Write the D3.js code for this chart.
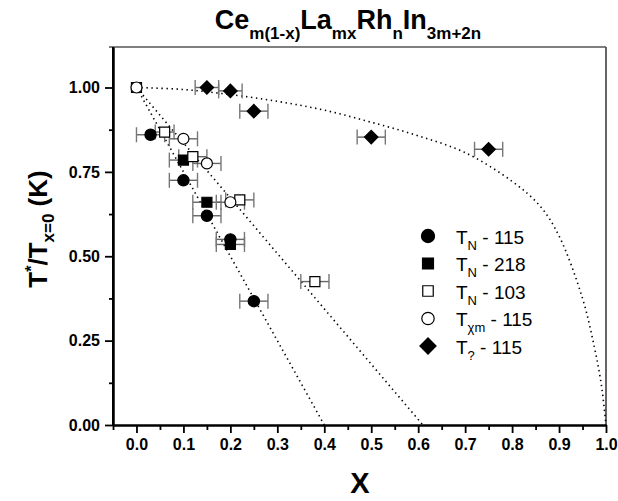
<!DOCTYPE html>
<html>
<head>
<meta charset="utf-8">
<script src="https://cdn.jsdelivr.net/npm/d3@7/dist/d3.min.js"></script>
<style>
  html, body { margin: 0; padding: 0; background: #fff; }
  svg { display: block; }
  text { font-family: "Liberation Sans", Arial, sans-serif; }
</style>
</head>
<body>
<svg id="chart" width="618" height="501"></svg>
<script>
// Normalised ordering temperature vs La fraction x in Ce(m(1-x))La(mx)Rh(n)In(3m+2n)

// Series: x, T*/T(x=0), horizontal error (x units)
const tn115X   = [0.03, 0.10, 0.15, 0.20, 0.25];
const tn115Y   = [0.86, 0.725, 0.62, 0.55, 0.367];
const tn115Err = [0.03, 0.03, 0.03, 0.03, 0.03];

const tn218X   = [0.10, 0.15, 0.20];
const tn218Y   = [0.785, 0.66, 0.535];
const tn218Err = [0.03, 0.03, 0.03];

const tn103X   = [0.00, 0.06, 0.12, 0.22, 0.38];
const tn103Y   = [1.00, 0.868, 0.795, 0.667, 0.425];
const tn103Err = [0.00, 0.02, 0.03, 0.03, 0.03];

const tchiX    = [0.00, 0.10, 0.15, 0.20];
const tchiY    = [1.00, 0.848, 0.775, 0.66];
const tchiErr  = [0.00, 0.03, 0.03, 0.03];

const tqX      = [0.15, 0.20, 0.25, 0.50, 0.75];
const tqY      = [1.00, 0.99, 0.93, 0.853, 0.817];
const tqErr    = [0.025, 0.025, 0.03, 0.03, 0.03];

// Guide lines (dotted)
const guideSteepX = [0.0, 0.40];
const guideSteepY = [1.0, 0.0];
const guideMidX   = [0.0, 0.61];
const guideMidY   = [1.0, 0.0];
const guideArcX   = [0.0, 0.1, 0.2, 0.3, 0.4, 0.5, 0.6, 0.7, 0.8, 0.86, 0.9, 0.95, 0.975, 0.99, 1.0];
const guideArcY   = [1.0, 0.994, 0.979, 0.959, 0.933, 0.897, 0.857, 0.807, 0.722, 0.648, 0.56, 0.375, 0.232, 0.12, 0.0];

// Axis ticks
const xMajorTicks = [0.0, 0.1, 0.2, 0.3, 0.4, 0.5, 0.6, 0.7, 0.8, 0.9, 1.0];
const xMinorTicks = [-0.05, 0.05, 0.15, 0.25, 0.35, 0.45, 0.55, 0.65, 0.75, 0.85, 0.95];
const yMajorTicks = [0.00, 0.25, 0.50, 0.75, 1.00];
const yMinorTicks = [0.125, 0.375, 0.625, 0.875];

const svg = d3.select("#chart");

const x = d3.scaleLinear().domain([-0.05, 1.0]).range([113, 606]);
const y = d3.scaleLinear().domain([0, 1.12]).range([425, 47]);

// Frame: grey top/right
svg.append("line").attr("x1", 109).attr("x2", x(1.0)).attr("y1", y(1.12)).attr("y2", y(1.12))
  .attr("stroke", "#555").attr("stroke-width", 1.5);
svg.append("line").attr("x1", x(1.0)).attr("x2", x(1.0)).attr("y1", y(1.12)).attr("y2", y(0))
  .attr("stroke", "#555").attr("stroke-width", 1.8);

// Axes
svg.append("g").attr("transform", `translate(0,${y(0)})`)
  .call(d3.axisBottom(x).tickValues(xMajorTicks).tickFormat(d3.format(".1f")).tickSize(8).tickSizeOuter(0).tickPadding(6));
svg.append("g").attr("transform", `translate(0,${y(0)})`)
  .call(d3.axisBottom(x).tickValues(xMinorTicks).tickFormat("").tickSize(5).tickSizeOuter(0));
svg.append("g").attr("transform", `translate(${x(-0.05)},0)`)
  .call(d3.axisLeft(y).tickValues(yMajorTicks).tickFormat(d3.format(".2f")).tickSize(8).tickSizeOuter(0).tickPadding(5));
svg.append("g").attr("transform", `translate(${x(-0.05)},0)`)
  .call(d3.axisLeft(y).tickValues(yMinorTicks).tickFormat("").tickSize(4).tickSizeOuter(0));

svg.selectAll(".domain").attr("stroke", "#000").attr("stroke-width", 2);
svg.selectAll(".tick line").attr("stroke", "#000").attr("stroke-width", 1.8);
svg.selectAll(".tick text").attr("fill", "#000")
  .style("font-family", "'Liberation Sans', Arial, sans-serif")
  .style("font-weight", "bold").style("font-size", "16px");
// y axis extends to the frame top
svg.append("line").attr("x1", x(-0.05)).attr("x2", x(-0.05)).attr("y1", y(1.12)).attr("y2", y(0))
  .attr("stroke", "#000").attr("stroke-width", 2);

// Dotted guides
const line = d3.line().x(d => x(d[0])).y(d => y(d[1]));
const dotted = (xs, ys, curve) => {
  svg.append("path")
    .attr("d", line.curve(curve || d3.curveLinear)(xs.map((v, i) => [v, ys[i]])))
    .attr("fill", "none").attr("stroke", "#000").attr("stroke-width", 1.6)
    .attr("stroke-dasharray", "1.4 3.6");
};
dotted(guideSteepX, guideSteepY);
dotted(guideMidX, guideMidY);
dotted(guideArcX, guideArcY, d3.curveCatmullRom);

// Markers (diamond = square turned 45 degrees)
const shapePath = (shape, size) => d3.symbol()
  .type(shape === "circle" ? d3.symbolCircle : d3.symbolSquare).size(size)();
const shapeRot = shape => shape === "diamond" ? " rotate(45)" : "";

const series = [
  { xs: tn218X, ys: tn218Y, err: tn218Err, shape: "square",  fill: "#000", size: 100 },
  { xs: tn103X, ys: tn103Y, err: tn103Err, shape: "square",  fill: "#fff", size: 100 },
  { xs: tchiX,  ys: tchiY,  err: tchiErr,  shape: "circle",  fill: "#fff", size: 95 },
  { xs: tn115X, ys: tn115Y, err: tn115Err, shape: "circle",  fill: "#000", size: 100 },
  { xs: tqX,    ys: tqY,    err: tqErr,    shape: "diamond", fill: "#000", size: 90 }
];

const barG = svg.append("g");
series.forEach(s => {
  s.xs.forEach((xv, i) => {
    const e = s.err[i];
    if (e <= 0) return;
    const cy = y(s.ys[i]);
    const x0 = x(xv - e), x1 = x(xv + e);
    barG.append("line").attr("x1", x0).attr("x2", x1).attr("y1", cy).attr("y2", cy)
      .attr("stroke", "#666").attr("stroke-width", 1.4);
    [x0, x1].forEach(cx => barG.append("line").attr("x1", cx).attr("x2", cx)
      .attr("y1", cy - 7.5).attr("y2", cy + 7.5).attr("stroke", "#777").attr("stroke-width", 1.4));
  });
});

const markG = svg.append("g");
series.forEach(s => {
  markG.selectAll(null).data(s.xs.map((v, i) => [v, s.ys[i]])).enter()
    .append("path")
    .attr("d", shapePath(s.shape, s.size))
    .attr("transform", d => `translate(${x(d[0])},${y(d[1])})${shapeRot(s.shape)}`)
    .attr("fill", s.fill).attr("stroke", "#000").attr("stroke-width", 1.2);
});

// Legend
const legendItems = [
  { shape: "circle",  fill: "#000", size: 135, main: "T", sub: "N",  rest: " - 115" },
  { shape: "square",  fill: "#000", size: 120, main: "T", sub: "N",  rest: " - 218" },
  { shape: "square",  fill: "#fff", size: 110, main: "T", sub: "N",  rest: " - 103" },
  { shape: "circle",  fill: "#fff", size: 120, main: "T", sub: "χm", rest: " - 115" },
  { shape: "diamond", fill: "#000", size: 130, main: "T", sub: "?",  rest: " - 115" }
];
const lg = svg.append("g");
legendItems.forEach((it, i) => {
  const cy = 236 + i * 27.5;
  lg.append("path").attr("d", shapePath(it.shape, it.size))
    .attr("transform", `translate(428,${cy})${shapeRot(it.shape)}`)
    .attr("fill", it.fill).attr("stroke", "#000").attr("stroke-width", 1.2);
  const t = lg.append("text").attr("x", 456).attr("y", cy + 7.5)
    .style("font-size", "19px").attr("fill", "#000");
  t.append("tspan").text(it.main);
  t.append("tspan").attr("dy", 6).style("font-size", "13px").text(it.sub);
  t.append("tspan").attr("dy", -6).text(it.rest);
});

// Title: chemical formula with subscripts
const titleParts = [["Ce", "m(1-x)"], ["La", "mx"], ["Rh", "n"], ["In", "3m+2n"]];
const title = svg.append("text").attr("x", 348).attr("y", 29).attr("text-anchor", "middle")
  .style("font-weight", "bold").style("font-size", "27px").attr("fill", "#000");
titleParts.forEach(([m, s], i) => {
  title.append("tspan").attr("dy", i === 0 ? 0 : -10).text(m);
  title.append("tspan").attr("dy", 10).style("font-size", "17px").text(s);
});

// Y axis title
const yt = svg.append("text").attr("transform", "translate(47,229) rotate(-90)")
  .attr("text-anchor", "middle").style("font-weight", "bold").style("font-size", "26px").attr("fill", "#000");
yt.append("tspan").text("T");
yt.append("tspan").attr("dy", -10).style("font-size", "16px").text("*");
yt.append("tspan").attr("dy", 10).text("/T");
yt.append("tspan").attr("dy", 7).style("font-size", "17px").text("x=0");
yt.append("tspan").attr("dy", -7).text(" (K)");

// X axis title
svg.append("text").attr("x", 360).attr("y", 493).attr("text-anchor", "middle")
  .style("font-weight", "bold").style("font-size", "29px").attr("fill", "#000").text("X");
</script>
</body>
</html>
